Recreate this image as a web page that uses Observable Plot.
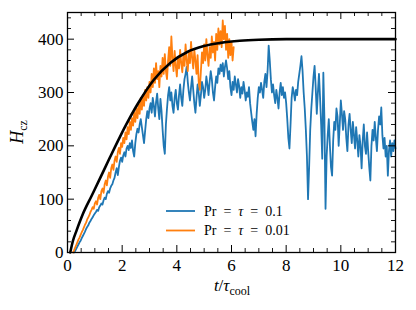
<!DOCTYPE html>
<html><head><meta charset="utf-8">
<script src="https://cdn.jsdelivr.net/npm/d3@7"></script>
<script src="https://cdn.jsdelivr.net/npm/@observablehq/plot@0.6"></script>
<style>
html,body{margin:0;padding:0;background:#fff;}
</style></head><body><div id="chart"></div>
<script>
// ---- data ----
// Pr = tau = 0.1 (blue), sampled every 0.04 from t = 0.24
const blueStart = 0.24;
const blueStep = 0.04;
const blueY = [
  0,3,7,11,15, 19,22,27,31,35, 39,44,48,51,56, 59,63,66,70,73,
  76,80,78,85,88, 92,90,98,103,100, 110,115,112,120,125, 128,135,140,150,158, 145,160,172,178,170,
  182,188,180,195,200, 192,205,196,210,190, 180,205,222,232,225, 240,250,235,220,205, 228,250,265,252,270,
  280,262,290,275,255, 282,298,270,250,288, 265,230,200,185,240, 270,295,310,285,300, 275,262,290,305,280,
  268,295,315,290,275, 305,325,335,348,320, 300,285,310,330,305, 280,262,290,315,300, 275,295,320,310,290,
  305,330,315,295,320, 340,325,300,285,310, 330,318,345,335,352, 340,355,330,348,360, 345,325,340,310,295,
  320,305,330,315,300, 325,312,290,310,298, 320,305,285,300,292, 310,280,262,245,230, 250,218,260,290,310,
  300,318,305,290,320, 335,310,340,388,360, 325,300,315,295,280, 305,290,270,300,318, 295,310,290,300,280,
  250,215,195,240,290, 310,300,285,305,295, 320,335,350,368,340, 300,270,230,180,100, 160,230,270,300,330,
  350,310,260,300,335, 290,240,176,337,250, 82,180,220,250,200, 160,144,210,245,230, 270,255,200,240,285,
  260,230,265,250,215, 190,240,260,230,205, 245,220,195,235,210, 180,220,200,158,210, 240,200,185,225,190,
  160,135,200,230,210, 245,215,190,230,255, 240,272,220,195,215, 180,200,144,190,210, 180,205,190,210,195
];
// Pr = tau = 0.01 (orange), sampled every 0.04 from t = 0.20
const orangeStart = 0.20;
const orangeStep = 0.04;
const orangeY = [
  0,4,9,14,19, 24,28,33,38,42, 47,52,56,62,66, 70,76,80,85,82, 92,
  96,90,102,108,100, 115,120,112,128,135, 126,142,150,140,158, 165,155,172,180,170, 188,196,185,205,198,
  215,205,225,212,235, 222,245,230,252,238, 262,245,270,252,278, 260,290,268,295,275, 305,285,310,290,320,
  300,335,310,345,318, 355,325,340,310,350, 330,365,335,372,340, 325,360,385,350,405, 365,340,378,350,330,
  365,345,380,355,338, 372,350,390,360,340, 375,355,395,365,345, 380,360,335,370,320, 305,340,375,355,390,
  360,400,370,350,385, 365,405,375,395,360, 410,380,420,390,415, 385,435,400,425,380, 410,365,400,370,395, 360,385
];
// model curve (black)
const blackT = [0.1,0.2,0.33,0.57,0.88,1.18,1.55,1.91,2.16,2.55,3.16,3.77,4.38,4.99,5.6,6.3,7,8,10,12];
const blackY = [0,22,41,73,106,138,178,216,241,277,324,356,376,387,393,397,399,400,400,400];

const xMajor = [0,2,4,6,8,10,12];
const xMinor = [0.5,1,1.5,2.5,3,3.5,4.5,5,5.5,6.5,7,7.5,8.5,9,9.5,10.5,11,11.5];
const yMajor = [0,100,200,300,400];
const yMinor = [20,40,60,80,120,140,160,180,220,240,260,280,320,340,360,380,420,440];

const legendLabels = ["0.1","0.01"];
const colors = ["#1f77b4","#ff7f0e"];

// ---- build tables ----
const blue = blueY.map((y,i)=>({t: blueStart + i*blueStep, y}));
const orange = orangeY.map((y,i)=>({t: orangeStart + i*orangeStep, y}));
const black = blackT.map((t,i)=>({t, y: blackY[i]}));

const W=416, H=310, mL=67, mR=21, mT=12, mB=58;
const iH = H-mT-mB, iW = W-mL-mR;
const font = "'Liberation Serif', 'DejaVu Serif', serif";

const chart = Plot.plot({
  width: W, height: H,
  marginLeft: mL, marginRight: mR, marginTop: mT, marginBottom: mB,
  x: {domain: [0,12]},
  y: {domain: [0,450]},
  style: {fontFamily: font, fontSize: "17px", background: "white", color: "black"},
  marks: [
    Plot.line(blue, {x:"t", y:"y", stroke: colors[0], strokeWidth: 1.8}),
    Plot.line(orange, {x:"t", y:"y", stroke: colors[1], strokeWidth: 1.8}),
    Plot.line(black, {x:"t", y:"y", stroke: "black", strokeWidth: 2.6, curve: "monotone-x"}),
    Plot.frame({stroke: "black", strokeWidth: 1.3}),
    Plot.ruleX(xMajor, {x: d=>d, insetTop: iH-7, stroke:"black", strokeWidth: 1}),
    Plot.ruleX(xMajor, {x: d=>d, insetBottom: iH-7, stroke:"black", strokeWidth: 1}),
    Plot.ruleX(xMinor, {x: d=>d, insetTop: iH-4, stroke:"black", strokeWidth: 0.9}),
    Plot.ruleX(xMinor, {x: d=>d, insetBottom: iH-4, stroke:"black", strokeWidth: 0.9}),
    Plot.ruleY(yMajor, {y: d=>d, insetRight: iW-7, stroke:"black", strokeWidth: 1}),
    Plot.ruleY(yMajor, {y: d=>d, insetLeft: iW-7, stroke:"black", strokeWidth: 1}),
    Plot.ruleY(yMinor, {y: d=>d, insetRight: iW-4, stroke:"black", strokeWidth: 0.9}),
    Plot.ruleY(yMinor, {y: d=>d, insetLeft: iW-4, stroke:"black", strokeWidth: 0.9}),
    Plot.axisX({ticks: xMajor, tickSize: 0, tickPadding: 6, label: null, fontSize: 17}),
    Plot.axisY({ticks: yMajor, tickSize: 0, tickPadding: 4, label: null, fontSize: 17})
  ]
});
document.getElementById("chart").appendChild(chart);

// ---- legend and axis titles ----
const svg = d3.select(chart);
const leg = svg.append("g").attr("font-family", font).attr("font-size", 14).attr("text-anchor","start");
legendLabels.forEach((lab, i) => {
  const yy = 211 + i*19.5;
  leg.append("line").attr("x1",166).attr("x2",195).attr("y1",yy).attr("y2",yy)
     .attr("stroke", colors[i]).attr("stroke-width", 1.8);
  const t = leg.append("text").attr("x", 204).attr("y", yy+4.5).attr("text-anchor","start");
  t.append("tspan").text("Pr\u2002=\u2002");
  t.append("tspan").attr("font-style","italic").text("τ");
  t.append("tspan").text("\u2002=\u2002" + lab);
});

const yl = svg.append("text").attr("font-family", font).attr("font-size", 18)
  .attr("text-anchor","middle").attr("transform","translate(23,132) rotate(-90)");
yl.append("tspan").attr("font-style","italic").text("H");
yl.append("tspan").attr("font-size",12).attr("dy",4).text("cz");

const xl = svg.append("text").attr("font-family", font).attr("font-size", 17)
  .attr("text-anchor","middle").attr("x", 232).attr("y", 291);
xl.append("tspan").attr("font-style","italic").text("t");
xl.append("tspan").text("/");
xl.append("tspan").attr("font-style","italic").text("τ");
xl.append("tspan").attr("font-size",12).attr("dy",4).text("cool");
</script></body></html>
